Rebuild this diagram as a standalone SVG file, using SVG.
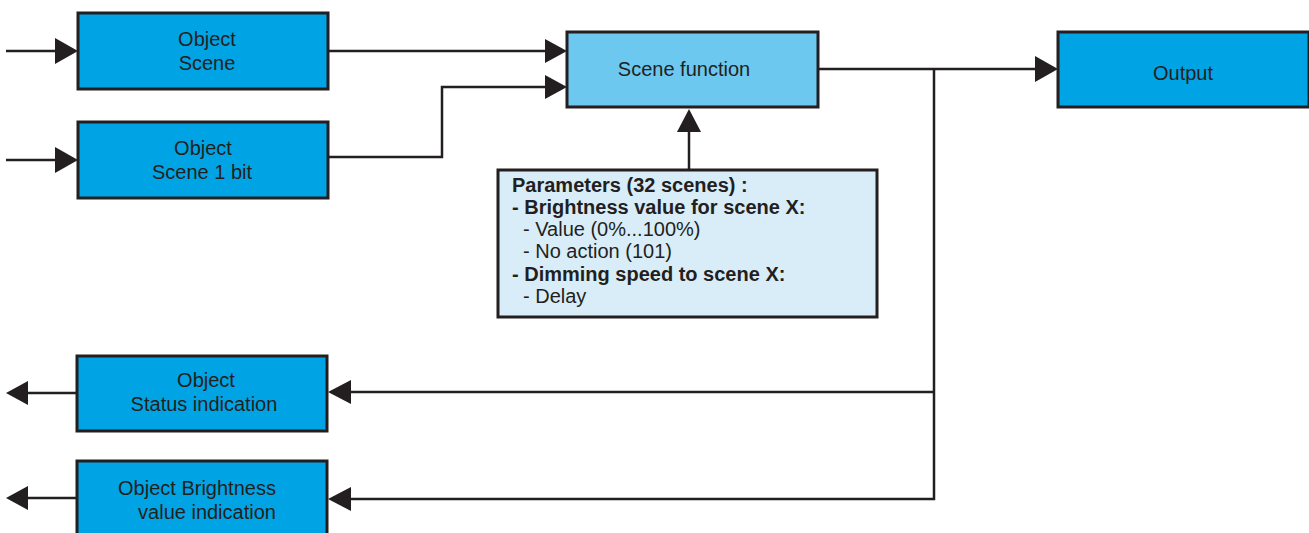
<svg xmlns="http://www.w3.org/2000/svg" width="1309" height="533" viewBox="0 0 1309 533">
<style>
.box{stroke:#231f20;stroke-width:3}
.obj{fill:#00a3e4}
.fn{fill:#6dc8f0}
.par{fill:#d9edf9}
.t{font-family:"Liberation Sans",Arial,sans-serif;font-size:20px;fill:#231f20;text-anchor:middle}
.p{font-family:"Liberation Sans",Arial,sans-serif;font-size:20px;fill:#231f20}
.b{font-weight:bold}
.ln{fill:none;stroke:#231f20;stroke-width:2.5}
.ah{fill:#231f20}
</style>
<rect width="1309" height="533" fill="#ffffff"/>
<g id="connectors">
<path class="ln" d="M6 51H56"/>
<polygon class="ah" points="78,51 55,38 55,64"/>
<path class="ln" d="M6 160H56"/>
<polygon class="ah" points="78,160 55,147 55,173"/>
<path class="ln" d="M328 51H546"/>
<polygon class="ah" points="567,51 545,39 545,63"/>
<path class="ln" d="M328 157H442V87H546"/>
<polygon class="ah" points="567,87 545,75 545,99"/>
<path class="ln" d="M689 170V130"/>
<polygon class="ah" points="689,109 677,132 701,132"/>
<path class="ln" d="M818 69H1036"/>
<polygon class="ah" points="1058,69 1035,56 1035,82"/>
<path class="ln" d="M934 69V499H350"/>
<path class="ln" d="M934 392H350"/>
<polygon class="ah" points="328,392 351,380 351,404"/>
<polygon class="ah" points="328,499 351,487 351,511"/>
<path class="ln" d="M77 393H27"/>
<polygon class="ah" points="6,393 28,381 28,405"/>
<path class="ln" d="M77 498H27"/>
<polygon class="ah" points="6,498 28,486 28,510"/>
</g>
<g id="obj-scene">
<rect class="box obj" x="78" y="13" width="250" height="76"/>
<text class="t" x="207" y="46">Object</text>
<text class="t" x="207" y="70">Scene</text>
</g>
<g id="obj-scene-1bit">
<rect class="box obj" x="78" y="122" width="250" height="76"/>
<text class="t" x="203" y="155">Object</text>
<text class="t" x="202" y="179">Scene 1 bit</text>
</g>
<g id="scene-function">
<rect class="box fn" x="567" y="32" width="251" height="75"/>
<text class="t" x="684" y="76">Scene function</text>
</g>
<g id="output">
<rect class="box obj" x="1058" y="32" width="251" height="75"/>
<text class="t" x="1183" y="80">Output</text>
</g>
<g id="parameters">
<rect class="box par" x="498" y="170" width="379" height="147"/>
<text class="p b" x="512" y="192">Parameters (32 scenes) :</text>
<text class="p b" x="512" y="214">- Brightness value for scene X:</text>
<text class="p" x="523" y="236">- Value (0%...100%)</text>
<text class="p" x="523" y="258">- No action (101)</text>
<text class="p b" x="512" y="281">- Dimming speed to scene X:</text>
<text class="p" x="523" y="303">- Delay</text>
</g>
<g id="obj-status">
<rect class="box obj" x="77" y="356" width="250" height="75"/>
<text class="t" x="206" y="387">Object</text>
<text class="t" x="204" y="411">Status indication</text>
</g>
<g id="obj-brightness">
<rect class="box obj" x="77" y="461" width="250" height="80"/>
<text class="t" x="197" y="495">Object Brightness</text>
<text class="t" x="207" y="519">value indication</text>
</g>
</svg>
